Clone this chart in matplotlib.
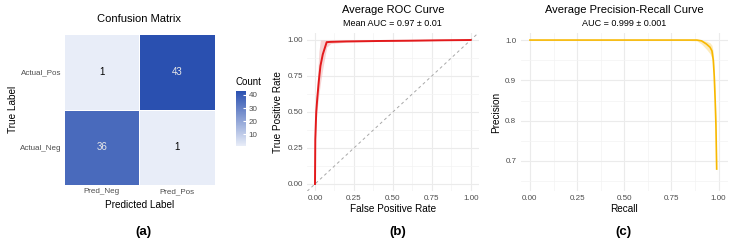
import numpy as np
import matplotlib
matplotlib.use("Agg")
import matplotlib.pyplot as plt
from matplotlib.colors import LinearSegmentedColormap

plt.rcParams["font.family"] = ["Liberation Sans", "DejaVu Sans"]

# ---- data ----
cm_rows = ["Actual_Pos", "Actual_Neg"]
cm_cols = ["Pred_Neg", "Pred_Pos"]
cm_vals = np.array([[1, 43],
                    [36, 1]])

roc_fpr = [0, 0.002, 0.008, 0.015, 0.025, 0.035, 0.05, 0.075, 0.1, 0.2, 0.4, 0.6, 0.8, 1.0]
roc_tpr = [0, 0.31, 0.5, 0.6, 0.72, 0.82, 0.9, 0.985, 0.987, 0.99, 0.993, 0.995, 0.998, 1.0]
roc_lo = [0, 0.28, 0.44, 0.53, 0.62, 0.7, 0.8, 0.95, 0.975, 0.985, 0.99, 0.993, 0.996, 1.0]
roc_hi = [0, 0.36, 0.58, 0.72, 0.92, 1.0, 1.0, 1.0, 1.0, 1.0, 1.0, 1.0, 1.0, 1.0]

pr_recall = [0, 0.2, 0.4, 0.6, 0.8, 0.885, 0.91, 0.936, 0.955, 0.965, 0.972, 0.977, 0.982, 0.986, 0.99]
pr_prec = [1, 1, 1, 1, 1, 1.0, 0.998, 0.99, 0.982, 0.973, 0.95, 0.911, 0.85, 0.79, 0.68]
pr_lo = [1, 1, 1, 1, 1, 0.998, 0.99, 0.977, 0.966, 0.955, 0.93, 0.89, 0.83, 0.77, 0.665]
pr_hi = [1, 1, 1, 1, 1, 1.0, 1.0, 0.997, 0.993, 0.987, 0.97, 0.93, 0.87, 0.81, 0.695]

GRID = "#EBEBEB"
MINOR = "#F3F3F3"
TICK = "#4D4D4D"
TICK_FS = 5.8
LAB_FS = 7.2


def minimal(ax, xmaj, xmin, ymaj, ymin):
    for s in ax.spines.values():
        s.set_visible(False)
    ax.set_xticks(xmaj)
    ax.set_xticks(xmin, minor=True)
    ax.set_yticks(ymaj)
    ax.set_yticks(ymin, minor=True)
    ax.grid(True, which="major", color=GRID, lw=0.8)
    ax.grid(True, which="minor", color=MINOR, lw=0.5)
    ax.tick_params(which="both", length=0, labelsize=TICK_FS, labelcolor=TICK, pad=3)
    ax.set_axisbelow(True)


fig = plt.figure(figsize=(7.34, 2.45), dpi=100)

# ---- (a) confusion matrix ----
ax1 = fig.add_axes([0.0872, 0.2449, 0.2057, 0.616])
cmap = LinearSegmentedColormap.from_list("cm", ["#E8EDF8", "#2A50B0"])
im = ax1.pcolormesh(np.arange(3), np.arange(3), cm_vals[::-1], cmap=cmap,
                    vmin=1, vmax=43, edgecolor="white", lw=0.5)
for i in range(2):
    for j in range(2):
        v = cm_vals[::-1][i, j]
        ax1.text(j + 0.5, i + 0.5, str(v), ha="center", va="center", fontsize=7,
                 color="#E8E8E8" if v > 20 else "black")
ax1.set_xlim(0, 2)
ax1.set_ylim(0, 2)
ax1.set_xticks([0.5, 1.5])
ax1.set_xticklabels(cm_cols)
ax1.set_yticks([0.5, 1.5])
ax1.set_yticklabels(cm_rows[::-1])
for s in ax1.spines.values():
    s.set_visible(False)
ax1.tick_params(length=0, labelsize=TICK_FS, labelcolor=TICK, pad=2)
ax1.set_xlabel("Predicted Label", fontsize=LAB_FS, labelpad=4)
ax1.set_ylabel("True Label", fontsize=LAB_FS, labelpad=1)
ax1.set_title("Confusion Matrix", fontsize=8, pad=9)

cax = fig.add_axes([236 / 734, 1 - 146 / 245, 10 / 734, 55 / 245])
cb = fig.colorbar(im, cax=cax, ticks=[10, 20, 30, 40])
cb.outline.set_visible(False)
cax.tick_params(length=2, color="white", labelsize=TICK_FS, labelcolor=TICK, pad=2, direction="in")
cax.set_title("Count", fontsize=7, loc="left", pad=4)

# ---- (b) ROC ----
ax2 = fig.add_axes([307.2 / 734, 1 - 191.2 / 245, 171.3 / 734, 158.4 / 245])
ax2.set_xlim(-0.05, 1.05)
ax2.set_ylim(-0.05, 1.05)
minimal(ax2, [0, 0.25, 0.5, 0.75, 1.0], [0.125, 0.375, 0.625, 0.875],
        [0, 0.25, 0.5, 0.75, 1.0], [0.125, 0.375, 0.625, 0.875])
ax2.xaxis.set_major_formatter(plt.FormatStrFormatter("%.2f"))
ax2.yaxis.set_major_formatter(plt.FormatStrFormatter("%.2f"))
ax2.plot([-0.05, 1.05], [-0.05, 1.05], ls=(0, (3, 3)), color="#A8A8A8", lw=0.7)
ax2.fill_between(roc_fpr, roc_lo, roc_hi, color="#F2B8B8", alpha=0.6, lw=0)
ax2.plot(roc_fpr, roc_tpr, color="#E31A1C", lw=1.4)
ax2.set_xlabel("False Positive Rate", fontsize=LAB_FS, labelpad=1)
ax2.set_ylabel("True Positive Rate", fontsize=LAB_FS, labelpad=3)
ax2.set_title("Average ROC Curve", fontsize=8, pad=14)
ax2.text(0.5, 1.03, "Mean AUC = 0.97 ± 0.01", transform=ax2.transAxes,
         ha="center", va="bottom", fontsize=6.5)

# ---- (c) PR ----
ax3 = fig.add_axes([520.5 / 734, 1 - 191.2 / 245, 207.5 / 734, 158.4 / 245])
ax3.set_xlim(-0.05, 1.05)
ax3.set_ylim(0.625, 1.018)
minimal(ax3, [0, 0.25, 0.5, 0.75, 1.0], [0.125, 0.375, 0.625, 0.875],
        [0.7, 0.8, 0.9, 1.0], [0.65, 0.75, 0.85, 0.95])
ax3.xaxis.set_major_formatter(plt.FormatStrFormatter("%.2f"))
ax3.yaxis.set_major_formatter(plt.FormatStrFormatter("%.1f"))
ax3.fill_between(pr_recall, pr_lo, pr_hi, color="#FBE3A0", alpha=0.7, lw=0)
ax3.plot(pr_recall, pr_prec, color="#F8B800", lw=1.2)
ax3.set_xlabel("Recall", fontsize=LAB_FS, labelpad=1)
ax3.set_ylabel("Precision", fontsize=LAB_FS, labelpad=3)
ax3.set_title("Average Precision-Recall Curve", fontsize=8, pad=14)
ax3.text(0.5, 1.03, "AUC = 0.999 ± 0.001", transform=ax3.transAxes,
         ha="center", va="bottom", fontsize=6.5)

# ---- panel labels ----
for x, lab in [(143, "(a)"), (398, "(b)"), (623, "(c)")]:
    fig.text(x / 734, 1 - 232 / 245, lab, ha="center", va="center",
             fontsize=9.5, fontweight="bold")

fig.savefig("out.png", dpi=100, facecolor="white")
